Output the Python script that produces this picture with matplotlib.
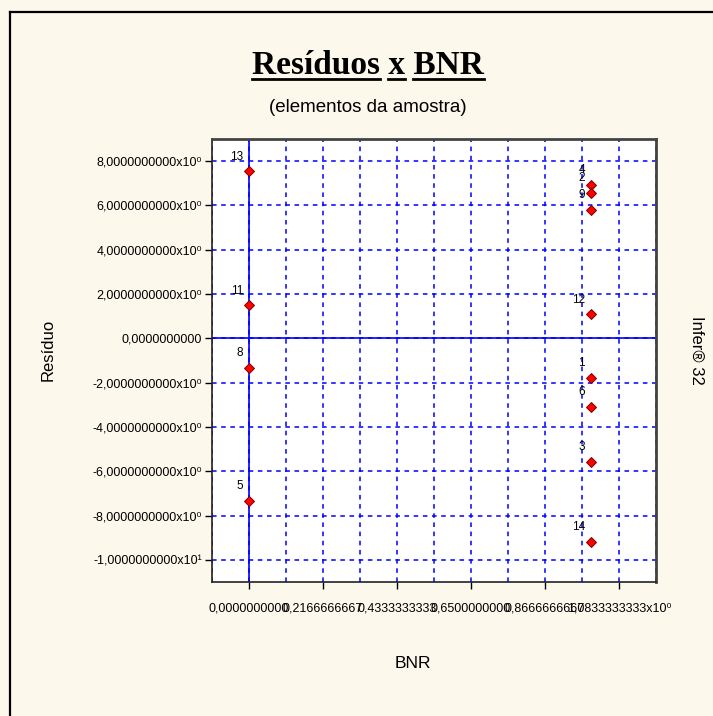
import matplotlib
matplotlib.use("Agg")
import matplotlib.pyplot as plt
from matplotlib.lines import Line2D
from matplotlib.ticker import MultipleLocator

# sample elements: id, BNR (x) and residual (y)
ids = ["13", "11", "8", "5", "4", "2", "9", "12", "1", "6", "3", "14"]
bnr = [0, 0, 0, 0, 1, 1, 1, 1, 1, 1, 1, 1]
residuo = [7.55, 1.50, -1.32, -7.34, 6.92, 6.58, 5.80, 1.08, -1.77, -3.09, -5.57, -9.18]

xticks = [0.0, 0.2166666667, 0.4333333333, 0.65, 0.8666666667, 1.0833333333]
xlabels = ["0,0000000000", "0,2166666667", "0,4333333333", "0,6500000000",
           "0,8666666667", "1,0833333333x10\u2070"]
yticks = [8, 6, 4, 2, 0, -2, -4, -6, -8, -10]
ylabels = ["8,0000000000x10\u2070", "6,0000000000x10\u2070", "4,0000000000x10\u2070",
           "2,0000000000x10\u2070", "0,0000000000", "-2,0000000000x10\u2070",
           "-4,0000000000x10\u2070", "-6,0000000000x10\u2070", "-8,0000000000x10\u2070",
           "-1,0000000000x10\u00b9"]

sans = ["Liberation Sans", "DejaVu Sans"]
W, H = 713, 716
fig = plt.figure(figsize=(W / 100, H / 100), dpi=100, facecolor="#fdf8ec")
ax = fig.add_axes([212 / W, 1 - 582 / H, (656 - 212) / W, (582 - 139) / H])
ax.set_facecolor("white")

ax.set_xlim(-0.1083333333, 1.1916666667)
ax.set_ylim(-11, 9)

ax.set_xticks(xticks)
ax.set_xticklabels(xlabels, fontsize=9, family=sans)
ax.set_yticks(yticks)
ax.set_yticklabels(ylabels, fontsize=9, family=sans)
ax.xaxis.set_minor_locator(MultipleLocator(0.1083333333))
ax.tick_params(axis="x", which="major", length=5, pad=10, width=1)
ax.tick_params(axis="y", which="major", length=5, pad=2, width=1)
ax.tick_params(which="minor", length=0)

ax.grid(which="both", axis="x", color="#0000ff", linestyle=(0, (3, 3)), linewidth=1.1)
ax.grid(which="major", axis="y", color="#0000ff", linestyle=(0, (3, 3)), linewidth=1.1)
ax.axhline(0, color="#0000ff", linewidth=1.2)
ax.axvline(0, color="#0000ff", linewidth=1.2)
ax.set_axisbelow(True)

for s in ax.spines.values():
    s.set_color("#222222")
    s.set_linewidth(1.2)
ax.spines["top"].set_linewidth(2)
ax.spines["right"].set_linewidth(2)
ax.spines["top"].set_color("#444444")
ax.spines["right"].set_color("#444444")

ax.plot(bnr, residuo, linestyle="none", marker="D", markersize=5.5,
        markerfacecolor="#ff0000", markeredgecolor="#7a0000", markeredgewidth=0.7,
        zorder=5)
for i, xv, yv in zip(ids, bnr, residuo):
    ax.annotate(i, (xv, yv), xytext=(-4, 10.5), textcoords="offset points",
                ha="right", va="center", fontsize=8.5, family=sans, zorder=6)

# titles and axis labels
title = "Resíduos x BNR"
tkw = dict(fontsize=24, family="Liberation Serif", weight="bold")
cx = 368 / W
base_y = 1 - 74 / H
fig.text(cx, base_y, title, ha="center", va="baseline", **tkw)

fig.canvas.draw()
r = fig.canvas.get_renderer()


def width(s):
    t = fig.text(0, 0, s, **tkw)
    w = t.get_window_extent(r).width
    t.remove()
    return w


w_full = width(title)
w1 = width("Resíduos")
w2 = width("Resíduos x")
wx = width("x")
w3 = width("BNR")
x0 = cx * W - w_full / 2
uy = 1 - 79 / H
for a, b in [(x0, x0 + w1), (x0 + w2 - wx, x0 + w2), (x0 + w_full - w3, x0 + w_full)]:
    fig.add_artist(Line2D([a / W, b / W], [uy, uy], color="black", linewidth=2,
                          transform=fig.transFigure))

fig.text(cx, 1 - 107 / H, "(elementos da amostra)", ha="center", va="center",
         fontsize=13.5, family=sans)
fig.text(48 / W, 1 - 350 / H, "Resíduo", ha="center", va="center", rotation=90,
         fontsize=12, family=sans)
fig.text(697 / W, 1 - 350 / H, "Infer\u00ae 32", ha="center", va="center", rotation=270,
         fontsize=12, family=sans)
fig.text(413 / W, 1 - 663 / H, "BNR", ha="center", va="center", fontsize=12.5,
         family=sans)

# outer frame (left and top edges)
fig.add_artist(Line2D([10 / W, 10 / W], [0, 1 - 12 / H], color="black", linewidth=1.6,
                      transform=fig.transFigure))
fig.add_artist(Line2D([10 / W, 1], [1 - 12 / H, 1 - 12 / H], color="black", linewidth=1.6,
                      transform=fig.transFigure))

fig.savefig("out.png", dpi=100, facecolor=fig.get_facecolor())
